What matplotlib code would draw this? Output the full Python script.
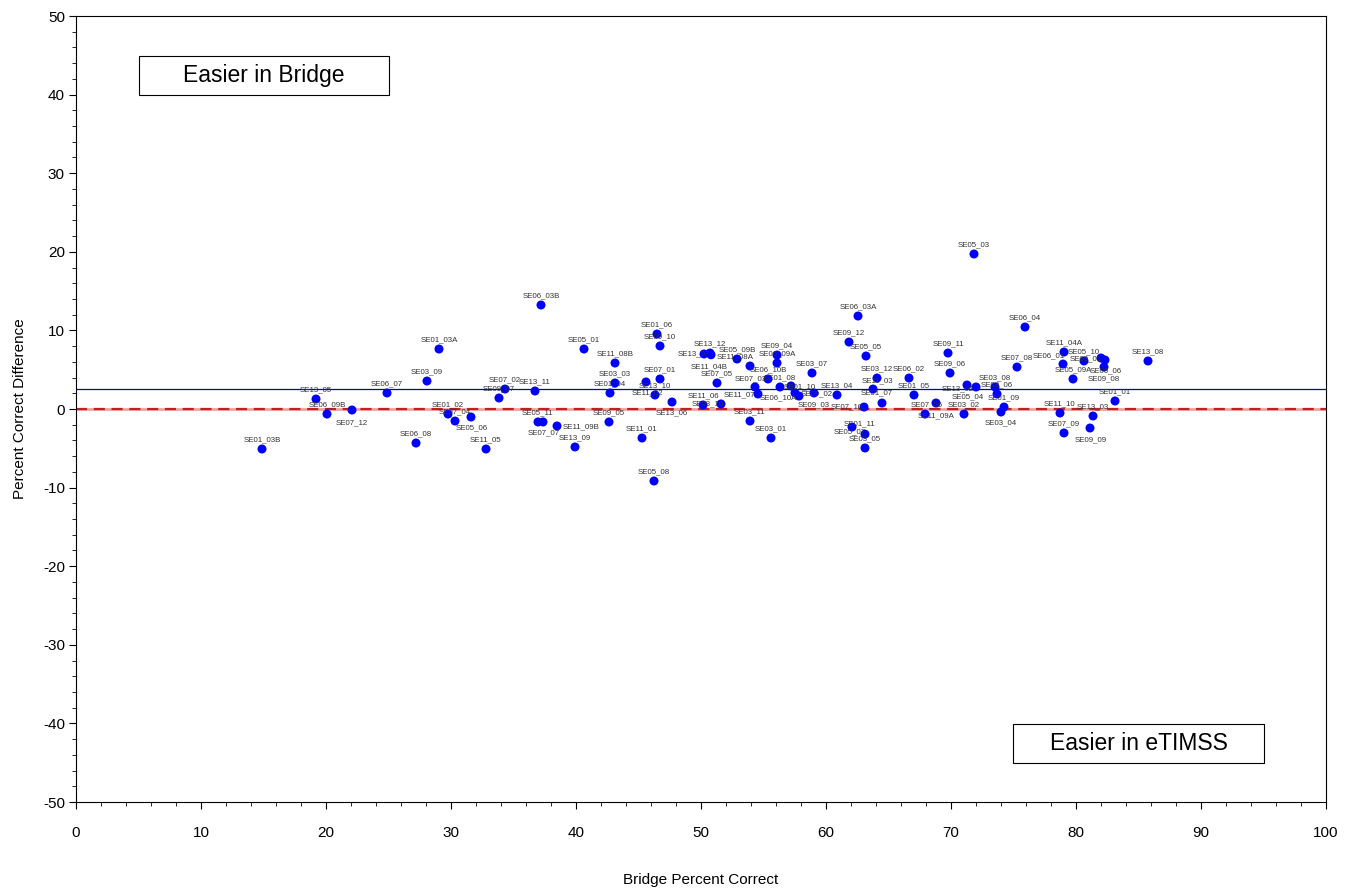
import matplotlib
matplotlib.use("Agg")
import matplotlib.pyplot as plt
from matplotlib.patches import Rectangle
from matplotlib.ticker import MultipleLocator

plt.rcParams['font.family'] = ['Liberation Sans', 'DejaVu Sans']
plt.rcParams['axes.unicode_minus'] = False

# ---- data -------------------------------------------------------------
items = ["SE01_03B", "SE13_05", "SE06_09B", "SE07_12", "SE06_07", "SE06_08",
         "SE03_09", "SE01_03A", "SE01_02", "SE07_04", "SE05_06", "SE11_05",
         "SE09_07", "SE07_02", "SE13_11", "SE06_03B", "SE05_11", "SE07_07",
         "SE11_09B", "SE13_09", "SE05_01", "SE09_05", "SE01_04", "SE11_08B",
         "SE03_03", "SE11_01", "SE11_02", "SE05_08", "SE13_10", "SE01_06",
         "SE09_10", "SE07_01", "SE13_06", "SE11_06", "SE13_07", "SE11_04B",
         "SE13_12", "SE07_05", "SE03_10", "SE05_09B", "SE11_08A", "SE03_11",
         "SE07_03", "SE06_10B", "SE03_01", "SE09_04", "SE06_09A", "SE01_08",
         "SE11_07", "SE01_10", "SE06_10A", "SE09_02", "SE09_03", "SE03_07",
         "SE13_04", "SE09_12", "SE01_11", "SE06_03A", "SE07_10", "SE05_07",
         "SE03_05", "SE05_05", "SE11_03", "SE03_12", "SE01_07", "SE06_02",
         "SE01_05", "SE11_09A", "SE07_06", "SE09_11", "SE09_06", "SE13_02",
         "SE05_04", "SE03_02", "SE05_03", "SE03_08", "SE03_06", "SE03_04",
         "SE01_09", "SE07_08", "SE06_04", "SE11_10", "SE06_01", "SE11_04A",
         "SE07_09", "SE05_09A", "SE05_10", "SE09_09", "SE13_03", "SE09_01",
         "SE06_06", "SE09_08", "SE01_01", "SE13_08"]

bridge_pct = [14.88, 19.2, 20.08, 22.08, 24.88, 27.2,
              28.08, 29.04, 29.76, 30.32, 31.6, 32.8,
              33.84, 34.32, 36.72, 37.2, 36.96, 37.36,
              38.48, 39.92, 40.64, 42.64, 42.72, 43.12,
              43.12, 45.28, 45.6, 46.24, 46.32, 46.48,
              46.72, 46.72, 47.68, 50.16, 50.24, 50.8,
              50.72, 51.28, 51.6, 52.88, 53.92, 53.92,
              54.32, 55.36, 55.6, 56.08, 56.08, 56.32,
              54.56, 57.2, 57.52, 57.84, 59.04, 58.88,
              60.88, 61.84, 62.08, 62.56, 63.04, 63.12,
              63.12, 63.2, 63.76, 64.08, 64.48, 66.64,
              67.04, 67.92, 68.8, 69.76, 69.92, 71.28,
              72.0, 71.04, 71.84, 73.52, 73.68, 74.0,
              74.24, 75.28, 75.92, 78.72, 78.96, 79.04,
              79.04, 79.76, 80.64, 81.12, 81.36, 82.0,
              82.32, 82.24, 83.12, 85.76]

pct_diff = [-5.09, 1.27, -0.64, -0.13, 2.04, -4.33,
            3.56, 7.63, -0.64, -1.53, -1.02, -5.09,
            1.40, 2.54, 2.29, 13.23, -1.65, -1.65,
            -2.16, -4.83, 7.63, -1.65, 2.04, 5.85,
            3.31, -3.69, 3.44, -9.16, 1.78, 9.54,
            8.02, 3.82, 0.89, 0.51, 7.00, 6.90,
            7.12, 3.31, 0.64, 6.36, 5.47, -1.53,
            2.80, 3.82, -3.69, 6.87, 5.85, 2.80,
            1.91, 2.93, 2.04, 1.65, 2.04, 4.58,
            1.78, 8.52, -2.29, 11.83, 0.25, -3.20,
            -4.96, 6.74, 2.54, 3.94, 0.76, 3.94,
            1.78, -0.64, 0.76, 7.12, 4.58, 3.05,
            2.80, -0.64, 19.72, 2.80, 1.91, -0.38,
            0.25, 5.34, 10.43, -0.51, 5.72, 7.25,
            -3.05, 3.82, 6.11, -2.42, -0.89, 6.49,
            6.23, 5.34, 1.02, 6.11]

mean_diff = 2.5
x_ticks = list(range(0, 101, 10))
y_ticks = list(range(-50, 51, 10))

# ---- label placement (pixel offsets from the point; default = above) --
label_offsets = {
    "SE07_12": (0, -13), "SE05_06": (1, -11), "SE07_07": (1, -11),
    "SE11_09B": (24, -1), "SE11_02": (1, -11), "SE13_06": (0, -11),
    "SE13_07": (-10, 0), "SE11_04B": (-2, -12), "SE03_10": (-13, 0),
    "SE11_08A": (-15, 9), "SE11_07": (-18, -1), "SE01_10": (9, -1),
    "SE06_10A": (-17, -5), "SE09_02": (18, 2), "SE09_03": (0, -12),
    "SE01_11": (8, 3), "SE07_10": (-17, 0), "SE05_07": (-15, 2),
    "SE11_03": (4, 8), "SE01_07": (-5, 10), "SE11_09A": (11, -2),
    "SE07_06": (-9, -2), "SE13_02": (-9, -4), "SE05_04": (-8, -10),
    "SE03_04": (0, -11), "SE06_01": (-14, 8), "SE09_09": (1, -12),
    "SE09_01": (-15, -1), "SE06_06": (1, -11), "SE09_08": (0, -12),
    "SE07_03": (-4, 8),
}

# ---- figure -----------------------------------------------------------
fig = plt.figure(figsize=(13.5, 8.88), dpi=100)
ax = fig.add_axes([76 / 1350, 1 - 802 / 888, 1250 / 1350, 786 / 888])

ax.set_xlim(0, 100)
ax.set_ylim(-50, 50)

ax.axhline(0, color='#f4a0a0', lw=2.0, zorder=1)
ax.axhline(0, color='#c02020', lw=1.6, ls=(0, (5, 3)), zorder=1)
ax.axhline(mean_diff, color='#0a0a90', lw=0.9, zorder=1)

ax.scatter(bridge_pct, pct_diff, s=42, color='#0000ff', edgecolors='none', zorder=3)

for name, xv, yv in zip(items, bridge_pct, pct_diff):
    dx, dy = label_offsets.get(name, (0, 9))
    ax.annotate(name, (xv, yv), xytext=(dx, dy), textcoords='offset pixels',
                ha='center', va='center', fontsize=5.7, color='#333333', zorder=4)

# text boxes
ax.add_patch(Rectangle((5.04, 39.9), 20.0, 5.0, facecolor='white',
                       edgecolor='black', lw=0.8, zorder=2))
ax.text(15.04, 42.4, "Easier in Bridge", ha='center', va='center', fontsize=16.5, zorder=3)
ax.add_patch(Rectangle((74.96, -45.04), 20.08, 4.96, facecolor='white',
                       edgecolor='black', lw=0.8, zorder=2))
ax.text(85.0, -42.56, "Easier in eTIMSS", ha='center', va='center', fontsize=16.5, zorder=3)

ax.set_xticks(x_ticks)
ax.set_yticks(y_ticks)
ax.xaxis.set_minor_locator(MultipleLocator(2))
ax.yaxis.set_minor_locator(MultipleLocator(2))
ax.tick_params(which='major', direction='out', length=5, width=0.8, labelsize=11)
ax.tick_params(which='minor', direction='out', length=3, width=0.6)
ax.tick_params(axis='x', pad=12)
ax.tick_params(axis='y', pad=3)

for sp in ax.spines.values():
    sp.set_linewidth(0.8)

ax.set_xlabel("Bridge Percent Correct", fontsize=11, labelpad=24)
ax.set_ylabel("Percent Correct Difference", fontsize=11, labelpad=11.5)

fig.savefig("out.png", dpi=100)
